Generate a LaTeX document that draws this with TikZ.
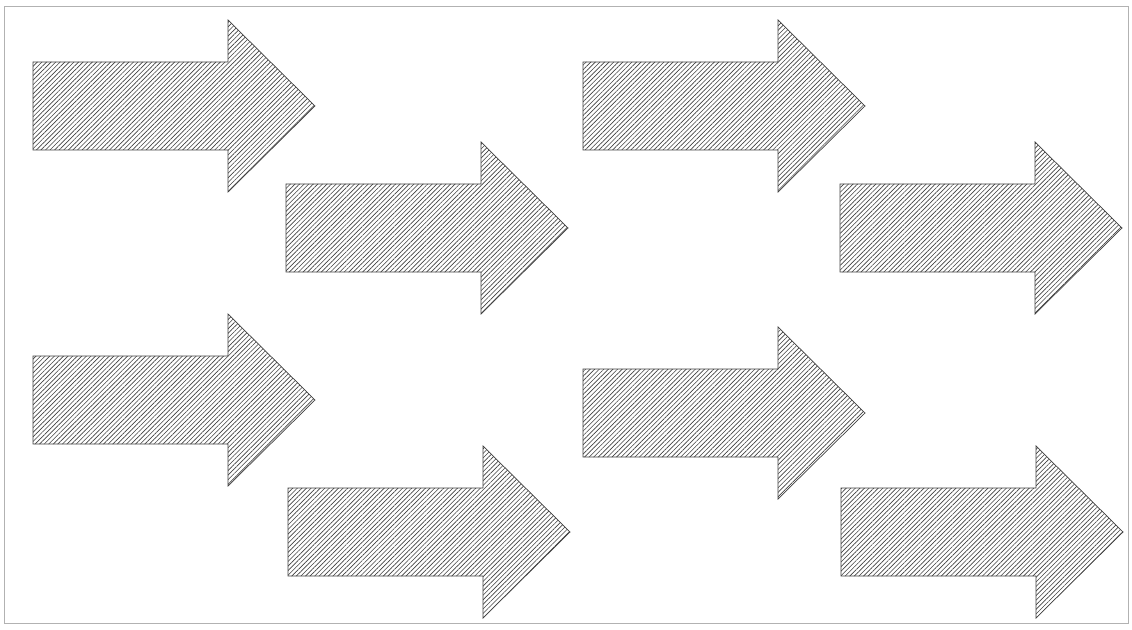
\documentclass[tikz,border=0pt]{standalone}
\usetikzlibrary{patterns.meta}
\tikzset{
  hatchfill/.style={draw=black!75, line width=0.5pt, line join=miter,
    pattern={Lines[angle=45, distance=2.3pt, line width=0.45pt]}, pattern color=black!75},
  framebox/.style={draw=black!30, line width=0.4pt},
  % one block arrow, anchored at the middle of its tail
  blockarrow/.pic={
    \draw[hatchfill] (0,-44) -- (195,-44) -- (195,-86) -- (282,0)
      -- (195,86) -- (195,44) -- (0,44) -- cycle;
  },
}
\begin{document}
\begin{tikzpicture}[x=0.025cm, y=-0.025cm]
  \useasboundingbox (0,0) rectangle (1132,630);
  \draw[framebox] (4,6) rectangle (1128,623);

  % left pair of columns
  \pic (arrA) at (33,106) {blockarrow};
  \pic (arrB) at (286,228) {blockarrow};
  \pic (arrC) at (33,400) {blockarrow};
  \pic (arrD) at (288,532) {blockarrow};
  % right pair of columns
  \pic (arrE) at (583,106) {blockarrow};
  \pic (arrF) at (840,228) {blockarrow};
  \pic (arrG) at (583,413) {blockarrow};
  \pic (arrH) at (841,532) {blockarrow};
\end{tikzpicture}
\end{document}
